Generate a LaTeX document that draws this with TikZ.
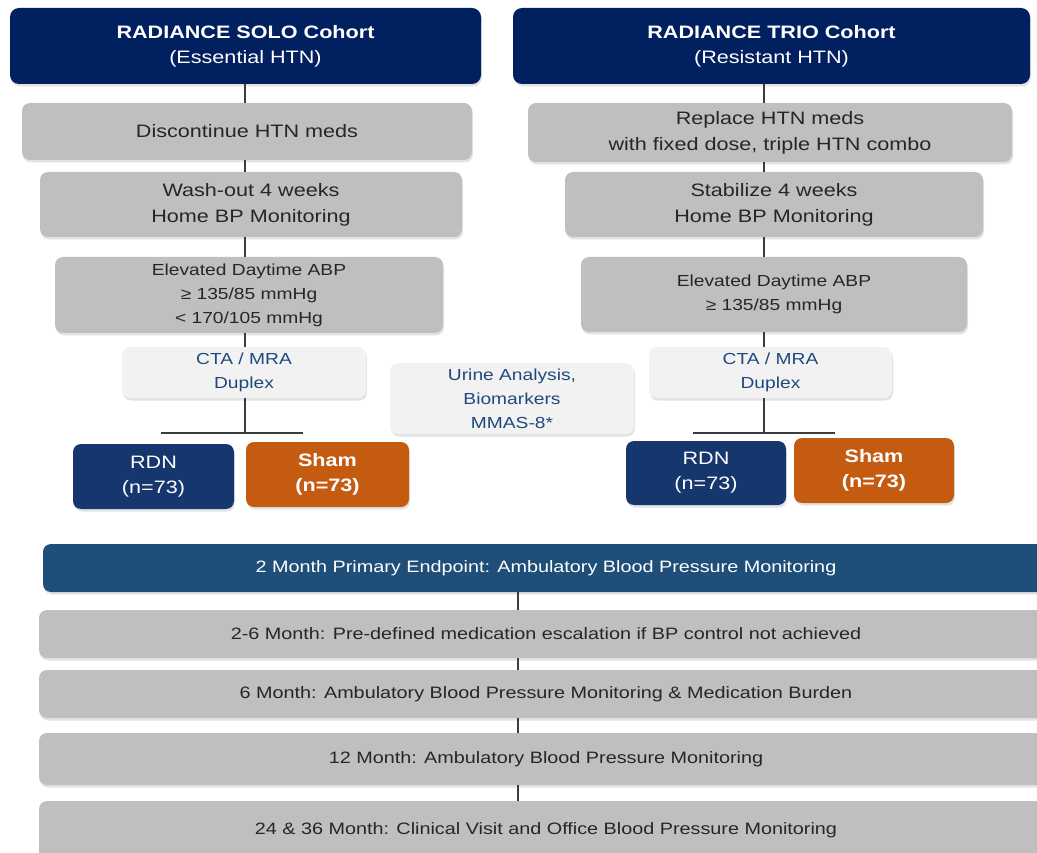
\documentclass[tikz,border=0pt]{standalone}
\usepackage{fontspec}
\setmainfont{Liberation Sans}[FakeStretch=1.2]
\usetikzlibrary{positioning,shadows}
\definecolor{cohortblue}{RGB}{0,32,96}
\definecolor{rdnblue}{RGB}{22,54,110}
\definecolor{shamorange}{RGB}{197,90,17}
\definecolor{endpointblue}{RGB}{31,78,121}
\definecolor{stepgray}{RGB}{191,191,191}
\definecolor{scangray}{RGB}{242,242,242}
\definecolor{scantext}{RGB}{31,73,125}
\definecolor{linkgray}{RGB}{60,60,60}
\tikzset{
  boxshadow/.style={drop shadow={opacity=.22, shadow xshift=1pt, shadow yshift=-2.5pt}},
  cohort/.style={
    rectangle,
    rounded corners=9pt,
    fill=cohortblue, text=white,
    inner sep=0pt,
    align=center,
    font=\fontsize{18}{25}\selectfont,
    boxshadow},
  stepbox/.style={
    rectangle,
    rounded corners=8pt,
    fill=stepgray, text=black!85,
    inner sep=0pt,
    align=center,
    font=\fontsize{18}{26}\selectfont,
    boxshadow},
  abpbox/.style={stepbox, font=\fontsize{16}{24}\selectfont},
  scanbox/.style={
    rectangle,
    rounded corners=8pt,
    fill=scangray, text=scantext,
    inner sep=0pt,
    align=center,
    font=\fontsize{16}{24}\selectfont,
    boxshadow},
  arm/.style={
    rectangle,
    rounded corners=8pt,
    text=white,
    inner sep=0pt,
    align=center,
    font=\fontsize{18}{25}\selectfont,
    boxshadow},
  visit/.style={
    rectangle,
    rounded corners=8pt,
    fill=stepgray, text=black!85,
    inner sep=0pt,
    minimum width=1014pt,
    font=\fontsize{16.5}{20}\selectfont,
    boxshadow},
  link/.style={draw=linkgray, line width=1.5pt},
}

\begin{document}
\begin{tikzpicture}[x=1pt, y=-1pt]
  \useasboundingbox (0,0) rectangle (1037,853);
  \clip (0,0) rectangle (1037,853);

  % spines of the three columns
  \coordinate (spineL) at (245,0);
  \coordinate (spineR) at (764,0);
  \coordinate (spineB) at (518,0);

  % SOLO cohort
  \node [cohort, minimum width=471pt, minimum height=76pt] (solo) at (245.5,46)
        {\textbf{RADIANCE SOLO Cohort}\\(Essential HTN)};
  \node [stepbox, minimum width=450pt, minimum height=57pt] (disc) at (247,131.5)
        {Discontinue HTN meds};
  \node [stepbox, minimum width=422pt, minimum height=65pt] (wash) at (251,204.5)
        {Wash-out 4 weeks\\Home BP Monitoring};
  \node [abpbox, minimum width=388pt, minimum height=76pt] (abpL) at (249,295)
        {Elevated Daytime ABP\\≥ 135/85 mmHg\\< 170/105 mmHg};
  \node [scanbox, minimum width=244pt, minimum height=51pt] (ctaL) at (244,372.5)
        {CTA / MRA\\Duplex};
  \node [arm, fill=rdnblue, minimum width=161pt, minimum height=65pt] (rdnL) at (153.5,476.5)
        {RDN\\(n=73)};
  \node [arm, fill=shamorange, minimum width=163pt, minimum height=65pt, font=\fontsize{18}{25}\selectfont\bfseries] (shamL) at (327.5,474.5)
        {Sham\\(n=73)};

  % TRIO cohort
  \node [cohort, minimum width=517pt, minimum height=76pt] (trio) at (771.5,46)
        {\textbf{RADIANCE TRIO Cohort}\\(Resistant HTN)};
  \node [stepbox, minimum width=484pt, minimum height=59pt] (repl) at (770,132.5)
        {Replace HTN meds\\with fixed dose, triple HTN combo};
  \node [stepbox, minimum width=418pt, minimum height=65pt] (stab) at (774,204.5)
        {Stabilize 4 weeks\\Home BP Monitoring};
  \node [abpbox, minimum width=386pt, minimum height=75pt] (abpR) at (774,294.5)
        {Elevated Daytime ABP\\≥ 135/85 mmHg};
  \node [scanbox, minimum width=243pt, minimum height=51pt] (ctaR) at (770.5,372.5)
        {CTA / MRA\\Duplex};
  \node [arm, fill=rdnblue, minimum width=160pt, minimum height=64pt] (rdnR) at (706,473)
        {RDN\\(n=73)};
  \node [arm, fill=shamorange, minimum width=160pt, minimum height=65pt, font=\fontsize{18}{25}\selectfont\bfseries] (shamR) at (874,470.5)
        {Sham\\(n=73)};

  \node [scanbox, minimum width=244pt, minimum height=71pt] (urine) at (512,398.5)
        {Urine Analysis,\\Biomarkers\\MMAS-8*};

  % follow-up
  \node [visit, fill=endpointblue, text=white, minimum width=1006pt, minimum height=48pt] (m2) at (546,568)
        {2 Month Primary Endpoint: Ambulatory Blood Pressure Monitoring};
  \node [visit, minimum height=48pt] (m26) at (546,634)
        {2-6 Month: Pre-defined medication escalation if BP control not achieved};
  \node [visit, minimum height=48pt] (m6) at (546,694)
        {6 Month: Ambulatory Blood Pressure Monitoring \& Medication Burden};
  \node [visit, minimum height=52pt] (m12) at (546,759)
        {12 Month: Ambulatory Blood Pressure Monitoring};
  \node [visit, minimum height=58pt] (m24) at (546,830)
        {24 \& 36 Month: Clinical Visit and Office Blood Pressure Monitoring};

  % connectors
  \draw[link] (spineL |- solo.south) -- (spineL |- disc.north);
  \draw[link] (spineL |- disc.south) -- (spineL |- wash.north);
  \draw[link] (spineL |- wash.south) -- (spineL |- abpL.north);
  \draw[link] (spineL |- abpL.south) -- (spineL |- ctaL.north);
  \coordinate (forkL) at (245,433);
  \coordinate (forkLa) at (161,433);
  \coordinate (forkLb) at (303,433);
  \draw[link] (spineL |- ctaL.south) -- (forkL);
  \draw[link] (forkLa) -- (forkLb);

  \draw[link] (spineR |- trio.south) -- (spineR |- repl.north);
  \draw[link] (spineR |- repl.south) -- (spineR |- stab.north);
  \draw[link] (spineR |- stab.south) -- (spineR |- abpR.north);
  \draw[link] (spineR |- abpR.south) -- (spineR |- ctaR.north);
  \coordinate (forkR) at (764,433);
  \coordinate (forkRa) at (693,433);
  \coordinate (forkRb) at (835,433);
  \draw[link] (spineR |- ctaR.south) -- (forkR);
  \draw[link] (forkRa) -- (forkRb);

  \draw[link] (spineB |- m2.south) -- (spineB |- m26.north);
  \draw[link] (spineB |- m26.south) -- (spineB |- m6.north);
  \draw[link] (spineB |- m6.south) -- (spineB |- m12.north);
  \draw[link] (spineB |- m12.south) -- (spineB |- m24.north);

\end{tikzpicture}
\end{document}
